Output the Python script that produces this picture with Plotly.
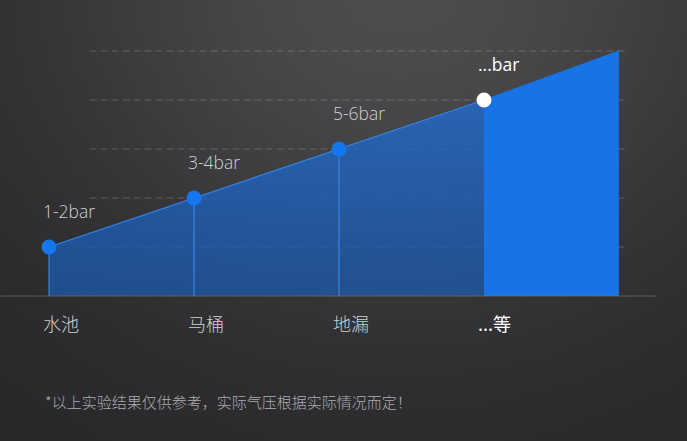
import base64
import struct
import zlib

import numpy as np
import plotly.graph_objects as go

# data
places = ['水池', '马桶', '地漏', '...等']
pressure_labels = ['1-2bar', '3-4bar', '5-6bar', '...bar']
positions = [0, 1, 2, 3]
pressure = [1, 2, 3, 4]
end_position = 3.93
end_pressure = 5
grid_levels = [1, 2, 3, 4, 5]
note = '*以上实验结果仅供参考，实际气压根据实际情况而定！'

W, H = 687, 441


def gradient_png(w, h):
    # dark background, lighter towards the top middle
    yy, xx = np.mgrid[0:h, 0:w].astype(float)
    d = ((xx - 0.58 * w) / (0.62 * w)) ** 2 + ((yy + 0.05 * h) / (0.85 * h)) ** 2
    v = 39 + 38 * np.exp(-d * 1.3)
    img = np.stack([v, v, v + 2], axis=-1).clip(0, 255).astype(np.uint8)
    raw = b''.join(b'\x00' + row.tobytes() for row in img)

    def chunk(tag, data):
        return (struct.pack('>I', len(data)) + tag + data
                + struct.pack('>I', zlib.crc32(tag + data) & 0xffffffff))

    png = (b'\x89PNG\r\n\x1a\n'
           + chunk(b'IHDR', struct.pack('>IIBBBBB', w, h, 8, 2, 0, 0, 0))
           + chunk(b'IDAT', zlib.compress(raw))
           + chunk(b'IEND', b''))
    return 'data:image/png;base64,' + base64.b64encode(png).decode()


fig = go.Figure()

# translucent area up to the last point
fig.add_trace(go.Scatter(
    x=positions, y=pressure, mode='lines', fill='tozeroy',
    line=dict(color='#2f86ee', width=1.2),
    fillgradient=dict(type='vertical', colorscale=[
        [0, 'rgba(28,88,172,0.74)'], [1, 'rgba(34,106,205,0.8)']]),
    hoverinfo='skip'))

# solid area after the last point
fig.add_trace(go.Scatter(
    x=[positions[-1], end_position], y=[pressure[-1], end_pressure],
    mode='lines', fill='tozeroy', fillcolor='#1773e6',
    line=dict(color='#1773e6', width=1), hoverinfo='skip'))

# vertical drop lines
vx, vy = [], []
for p, v in zip(positions[:-1], pressure[:-1]):
    vx += [p, p, None]
    vy += [v, 0, None]
fig.add_trace(go.Scatter(x=vx, y=vy, mode='lines',
    line=dict(color='#3a8ef2', width=1), hoverinfo='skip'))

# points
fig.add_trace(go.Scatter(
    x=positions, y=pressure, mode='markers',
    marker=dict(size=15, color=['#1577f0'] * 3 + ['#ffffff'],
                line=dict(width=0)),
    hoverinfo='skip'))

shapes = []
for g in grid_levels:
    shapes.append(dict(type='line', xref='x', yref='y', layer='below',
                       x0=0.28, x1=4.0, y0=g, y1=g,
                       line=dict(color='rgba(255,255,255,0.2)', width=1, dash='7px,4px')))
shapes.append(dict(type='line', xref='paper', yref='y', layer='above',
                   x0=0, x1=0.955, y0=0, y1=0,
                   line=dict(color='rgba(120,120,125,0.6)', width=1)))

annotations = []
for i, (p, v) in enumerate(zip(positions, pressure)):
    last = i == len(positions) - 1
    col = '#ffffff' if last else '#d0d0d0'
    wt = 400 if last else 300
    annotations.append(dict(x=p, y=v, text=pressure_labels[i], showarrow=False,
                            xanchor='left', yanchor='middle', xshift=-8, yshift=36,
                            font=dict(size=17.5, color=col, family='Open Sans', weight=wt)))
    annotations.append(dict(x=p, y=0, text=places[i], showarrow=False,
                            xanchor='left', yanchor='middle', xshift=-8, yshift=-27,
                            font=dict(size=18, color=col, weight=wt,
                                      family='Noto Sans CJK SC, Noto Sans')))
annotations.append(dict(x=43 / W, y=1 - 401 / H, xref='paper', yref='paper',
                        text=note, showarrow=False, xanchor='left', yanchor='middle',
                        font=dict(size=15, color='#acacae', weight=300,
                                  family='Noto Sans CJK SC, Noto Sans')))

px_per_x = 145
px_per_y = 49
fig.update_layout(
    width=W, height=H, margin=dict(l=0, r=0, t=0, b=0),
    paper_bgcolor='#2e2e30', plot_bgcolor='rgba(0,0,0,0)',
    showlegend=False,
    xaxis=dict(range=[-49 / px_per_x, (W - 49) / px_per_x], visible=False, fixedrange=True),
    yaxis=dict(range=[-(H - 296) / px_per_y, 296 / px_per_y], visible=False, fixedrange=True),
    shapes=shapes, annotations=annotations,
    images=[dict(source=gradient_png(W // 3, H // 3), xref='paper', yref='paper',
                 x=0, y=1, sizex=1, sizey=1, sizing='stretch',
                 xanchor='left', yanchor='top', layer='below')])

fig.write_html('out.html', config={'displayModeBar': False},
               post_script="document.body.style.margin='0';")
